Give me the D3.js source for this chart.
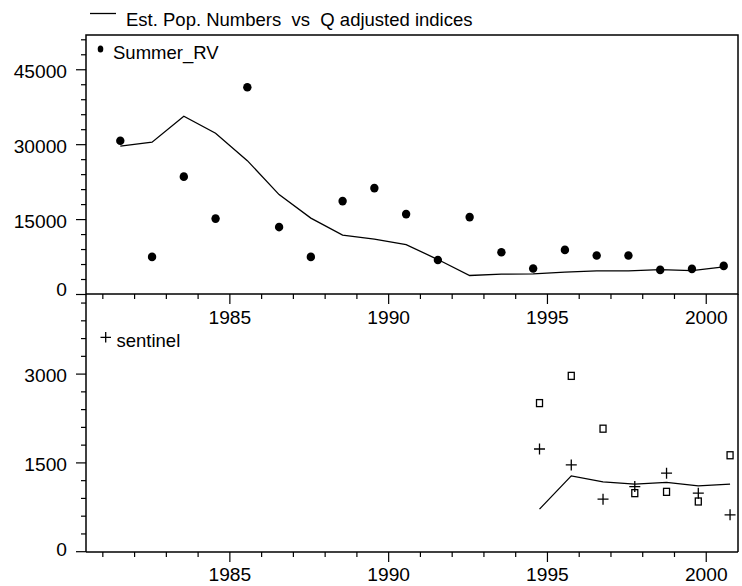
<!DOCTYPE html>
<html><head><meta charset="utf-8">
<script src="https://cdn.jsdelivr.net/npm/d3@7"></script>
<style>body{margin:0;background:#fff}svg{display:block}text{font-family:Arial,"Liberation Sans",sans-serif;fill:#000}</style>
</head><body>
<script>
// ---- data ----
const topYears = [1981.55,1982.55,1983.55,1984.55,1985.55,1986.55,1987.55,1988.55,1989.55,1990.55,1991.55,1992.55,1993.55,1994.55,1995.55,1996.55,1997.55,1998.55,1999.55,2000.55];
const topEstimate = [29700,30500,35700,32300,26800,20000,15300,11900,11100,10000,7000,3800,4070,4130,4470,4730,4730,5000,4800,5530];
const summerRV = [30800,7530,23600,15200,41500,13500,7530,18700,21300,16100,6900,15500,8470,5200,8930,7800,7800,4930,5130,5730];
const botYears = [1994.75,1995.75,1996.75,1997.75,1998.75,1999.75,2000.75];
const botEstimate = [720,1280,1180,1140,1170,1112,1140];
const sentinel = [1735,1466,888,1100,1326,989,623];
const sentinelAlt = [2510,2970,2078,989,1011,848,1629];
const xMajorTicks = [1985,1990,1995,2000];
const xMinorTicks = d3.range(1981,2001);
const topMajorTicks = [0,15000,30000,45000];
const topMinorTicks = d3.range(0,52000,3000);
const botMajorTicks = [0,1500,3000];
const botMinorTicks = d3.range(0,4350,300);
const legendTitle = "Est. Pop. Numbers  vs  Q adjusted indices";

// ---- layout ----
const W=742,H=586, L=86, R=738, T1=35, B1=294, B2=552;
const FS="18.5px", TFS="19.2px";
const svg=d3.select("body").append("svg").attr("width",W).attr("height",H);
const x=d3.scaleLinear().domain([1980.47,2001]).range([L,R]);
const y1=d3.scaleLinear().domain([0,52000]).range([294.5,34.8]);
const y2=d3.scaleLinear().domain([0,4353]).range([551.7,294]);
const line=(xs,ys,yS)=>d3.line().x((d,i)=>x(xs[i])).y(d=>yS(d))(ys);

const g=svg.append("g");
// frame
g.append("rect").attr("x",L).attr("y",T1).attr("width",R-L).attr("height",B1-T1).attr("fill","none").attr("stroke","#000").attr("stroke-width",1.5);
g.append("line").attr("x1",L).attr("x2",R).attr("y1",B2).attr("y2",B2).attr("stroke","#000").attr("stroke-width",1.5);
g.append("line").attr("x1",L).attr("x2",L).attr("y1",B1).attr("y2",B2).attr("stroke","#000").attr("stroke-width",1.5);
g.append("line").attr("x1",R).attr("x2",R).attr("y1",B1).attr("y2",B2).attr("stroke","#000").attr("stroke-width",1.5);

function tick(x1,y1_,x2,y2_){g.append("line").attr("x1",x1).attr("y1",y1_).attr("x2",x2).attr("y2",y2_).attr("stroke","#000").attr("stroke-width",1.2);}
// y ticks top
topMinorTicks.forEach(v=>{const L0=topMajorTicks.includes(v)?10:5; tick(L-L0,y1(v),L,y1(v));});
topMajorTicks.forEach(v=>g.append("text").attr("x",67).attr("y",y1(v)+(v===0?1:8)).attr("text-anchor","end").style("font-size",TFS).text(v));
botMinorTicks.forEach(v=>{const L0=botMajorTicks.includes(v)?10:5; tick(L-L0,y2(v),L,y2(v));});
botMajorTicks.forEach(v=>g.append("text").attr("x",67).attr("y",y2(v)+(v===0?4:8)).attr("text-anchor","end").style("font-size",TFS).text(v));
// x ticks
xMinorTicks.forEach(v=>{const L0=xMajorTicks.includes(v)?10:5; tick(x(v),B1,x(v),B1+L0); tick(x(v),B2,x(v),B2+L0);});
xMajorTicks.forEach(v=>{
  g.append("text").attr("x",x(v)).attr("y",323.5).attr("text-anchor","middle").style("font-size",TFS).text(v);
  g.append("text").attr("x",x(v)).attr("y",580.5).attr("text-anchor","middle").style("font-size",TFS).text(v);
});

// top panel
g.append("path").attr("d",line(topYears,topEstimate,y1)).attr("fill","none").attr("stroke","#000").attr("stroke-width",1.3);
g.selectAll(".dot").data(summerRV).enter().append("ellipse").attr("cx",(d,i)=>x(topYears[i])).attr("cy",d=>y1(d)).attr("rx",4.2).attr("ry",4.3).attr("fill","#000");

// bottom panel
g.append("path").attr("d",line(botYears,botEstimate,y2)).attr("fill","none").attr("stroke","#000").attr("stroke-width",1.3);
g.selectAll(".sq").data(sentinelAlt).enter().append("rect").attr("x",(d,i)=>x(botYears[i])-3).attr("y",d=>y2(d)-3.5).attr("width",6).attr("height",7).attr("fill","none").attr("stroke","#000").attr("stroke-width",1.3);
g.selectAll(".pl").data(sentinel).enter().append("path").attr("d",(d,i)=>{const cx=x(botYears[i]),cy=y2(d);return `M${cx-5.5},${cy}H${cx+5.5}M${cx},${cy-5.5}V${cy+5.5}`;}).attr("stroke","#000").attr("stroke-width",1.3).attr("fill","none");

// legends
g.append("line").attr("x1",90).attr("x2",116).attr("y1",13.5).attr("y2",13.5).attr("stroke","#000").attr("stroke-width",1.3);
g.append("text").attr("x",126).attr("y",26).attr("xml:space","preserve").style("white-space","pre").style("font-size",FS).text(legendTitle);
g.append("ellipse").attr("cx",100.5).attr("cy",49).attr("rx",2.8).attr("ry",3.6).attr("fill","#000");
g.append("text").attr("x",113).attr("y",58.5).style("font-size",FS).text("Summer_RV");
g.append("path").attr("d","M100.5,337.3H111M105.7,332V342.5").attr("stroke","#000").attr("stroke-width",1.3);
g.append("text").attr("x",116.5).attr("y",346.7).style("font-size",FS).text("sentinel");
</script>
</body></html>
